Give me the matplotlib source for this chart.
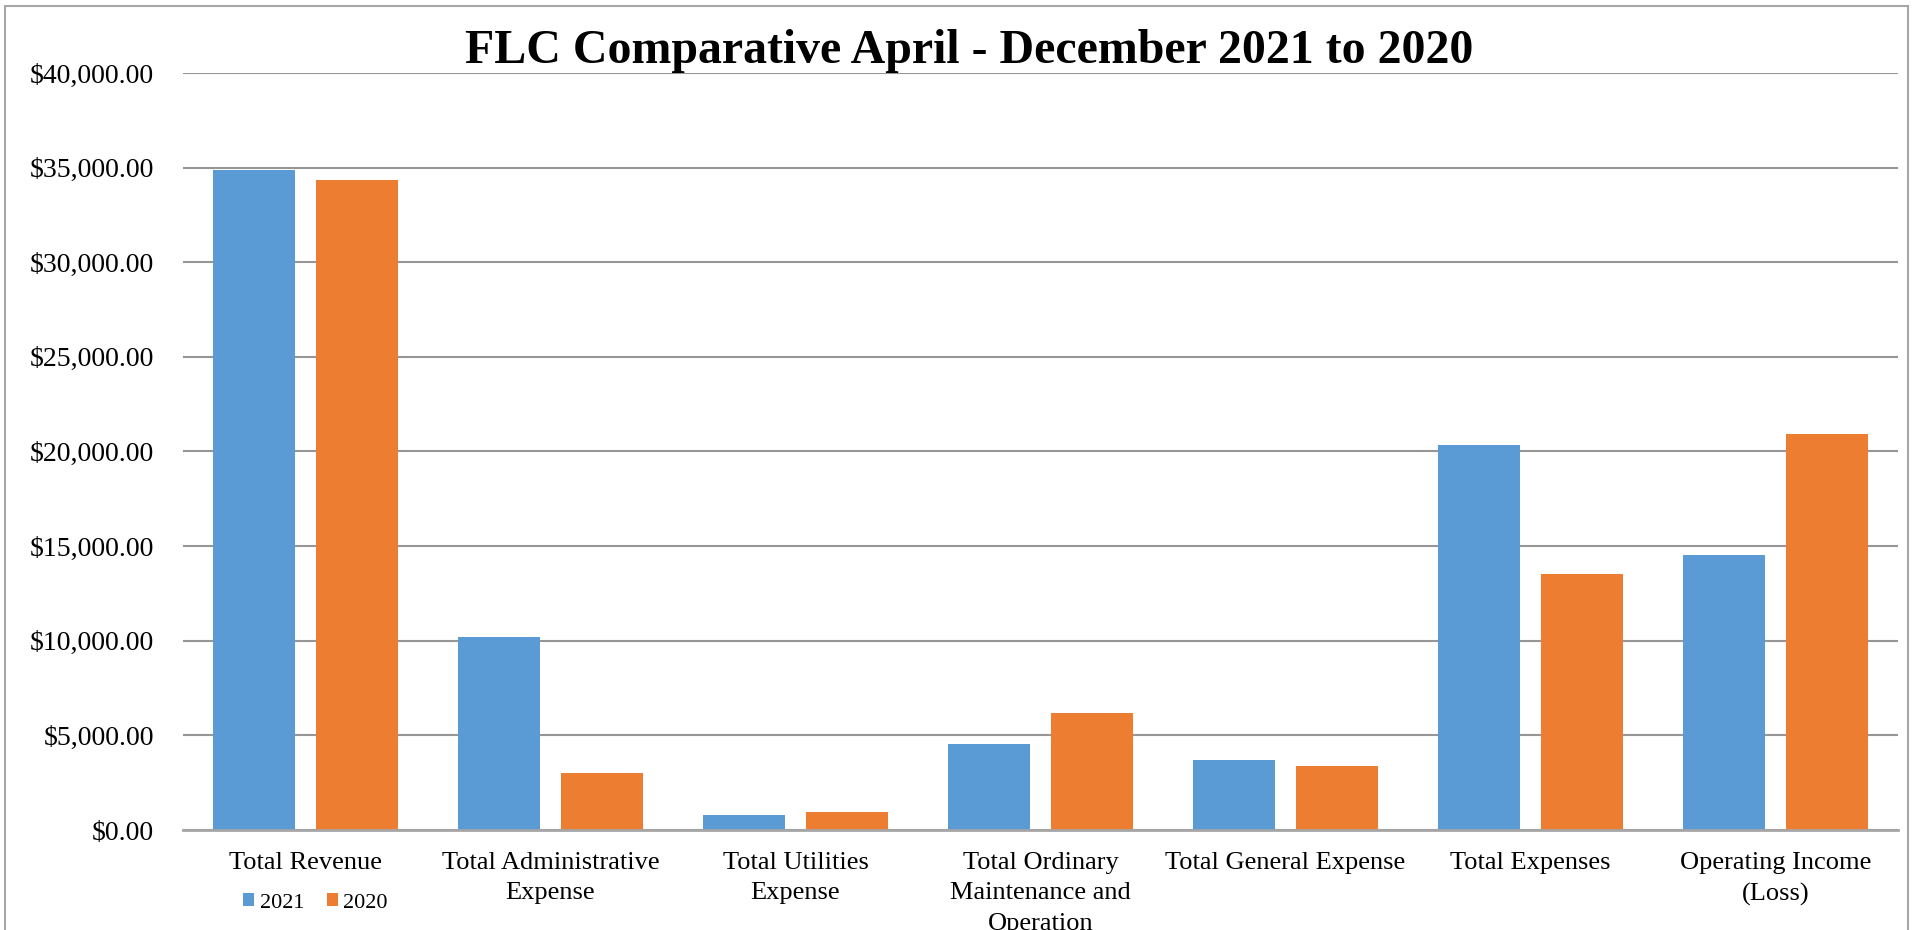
import numpy as np
import matplotlib.pyplot as plt
from matplotlib.patches import Rectangle
from matplotlib.ticker import FuncFormatter

categories = [
    "Total Revenue",
    "Total Administrative\nExpense",
    "Total Utilities\nExpense",
    "Total Ordinary\nMaintenance and\nOperation",
    "Total General Expense",
    "Total Expenses",
    "Operating Income\n(Loss)",
]
values_2021 = [34850, 10180, 790, 4530, 3720, 20320, 14530]
values_2020 = [34370, 3030, 930, 6190, 3370, 13510, 20900]
series_labels = ["2021", "2020"]

blue = "#5B9BD5"
orange = "#ED7D31"
grid_gray = "#969696"

plt.rcParams["font.family"] = ["Liberation Serif", "DejaVu Serif"]

fig = plt.figure(figsize=(19.16, 9.30), dpi=100)
ax = fig.add_axes([183 / 1916, 1 - 830 / 930, (1898 - 183) / 1916, (830 - 73) / 930])

x = np.arange(len(categories))
width = 0.335
offset = 0.2085
ax.bar(x - offset, values_2021, width, color=blue, label=series_labels[0], zorder=3)
ax.bar(x + offset, values_2020, width, color=orange, label=series_labels[1], zorder=3)

ax.set_xlim(-0.5, len(categories) - 0.5)
ax.set_ylim(0, 40000)
ax.set_yticks(np.arange(0, 40001, 5000))
ax.yaxis.set_major_formatter(FuncFormatter(lambda v, _: f"${v:,.2f}"))
ax.grid(axis="y", color=grid_gray, linewidth=1.5, zorder=0)
ax.set_axisbelow(True)

for side in ["top", "right", "left"]:
    ax.spines[side].set_visible(False)
ax.spines["bottom"].set_color("#a6a6a6")
ax.spines["bottom"].set_linewidth(2)
ax.spines["bottom"].set_zorder(4)

ax.set_xticks(x)
ax.set_xticklabels(categories, fontsize=19, linespacing=1.48, va="top")
ax.tick_params(axis="x", length=0, pad=16)
ax.tick_params(axis="y", length=0, pad=21, labelsize=20)

fig.text(0.506, 1 - 51 / 930, "FLC Comparative April - December 2021 to 2020",
         ha="center", va="center", fontsize=34.5, fontweight="bold")

fig.legend(loc="center left", bbox_to_anchor=(232 / 1916, 1 - 903 / 930),
           ncol=2, frameon=False, fontsize=16, handlelength=0.5, handleheight=0.5,
           handletextpad=0.25, columnspacing=1.0, borderpad=0)

fig.patches.append(Rectangle((5 / 1916, -0.05), (1908 - 5) / 1916, 1.05 - 6 / 930,
                             transform=fig.transFigure, fill=False,
                             edgecolor="#a6a6a6", linewidth=1.5))

fig.savefig("out.png", dpi=100, facecolor="white")
